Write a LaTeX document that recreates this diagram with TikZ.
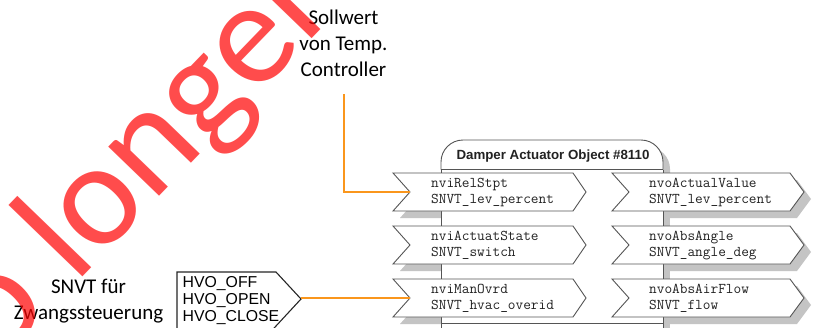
\documentclass[tikz,border=0pt]{standalone}
\usepackage{fontspec}
\newfontfamily\pcal{Carlito}
\newfontfamily\parial{Liberation Sans}
\definecolor{shadowgray}{HTML}{C4C4C4}
\definecolor{linegray}{HTML}{555555}
\definecolor{txtdark}{HTML}{222222}
\definecolor{wireorange}{HTML}{FA961C}
\tikzset{
  boxline/.style={draw=linegray, line width=0.9pt},
  shadowfill/.style={fill=shadowgray},
  portfill/.style={fill=white, draw=linegray, line width=0.9pt, line join=miter},
  porttext/.style={anchor=base west, inner sep=0pt, text=txtdark, font=\ttfamily\fontsize{14.9}{16}\selectfont},
  calibri/.style={inner sep=0pt, align=center, font=\pcal\fontsize{21}{26}\selectfont},
  wire/.style={draw=wireorange, line width=2pt},
  hvoline/.style={draw=black!85, line width=1.1pt, line join=miter},
}
\newcommand\lportpath[1]{(393,#1) -- (573,#1) -- (586,{#1+19}) -- (573,{#1+38}) -- (393,{#1+38}) -- (410,{#1+19}) -- cycle}
\newcommand\rportpath[1]{(612,#1) -- (790,#1) -- (804,{#1+19}) -- (790,{#1+38}) -- (612,{#1+38}) -- (629,{#1+19}) -- cycle}
\begin{document}
\begin{tikzpicture}[x=1pt,y=-1pt]
\useasboundingbox (0,0) rectangle (817,327);
\clip (0,0) rectangle (817,327);
\fill[white] (0,0) rectangle (817,327);
% shadows
\begin{scope}[shift={(7,7)}]
  \fill[shadowgray, rounded corners=22] (441,169.5) -- (441,140) -- (663,140) -- (663,169.5);
  \fill[shadowgray] (441,169) rectangle (663,345);
  \foreach \t in {173,226,279} {
    \fill[shadowgray] \lportpath{\t};
    \fill[shadowgray] \rportpath{\t};
  }
\end{scope}
% title box and body
\filldraw[boxline, fill=white, rounded corners=22] (441,169.5) -- (441,140) -- (663,140) -- (663,169.5);
\fill[white] (441,169.5) rectangle (663,345);
\draw[boxline] (441,169.5) -- (441,345);
\draw[boxline] (663,169.5) -- (663,345);
\draw[boxline] (441,169.5) -- (663,169.5);
\draw[boxline] (441,323) -- (663,323);
\node[inner sep=0pt, anchor=base, text=txtdark, font=\parial\bfseries\fontsize{13.3}{15}\selectfont] (title) at (553,159.5) {Damper Actuator Object \#8110};
% ports
\foreach \t in {173,226,279} {
  \draw[portfill] \lportpath{\t};
  \draw[portfill] \rportpath{\t};
}
\coordinate (n1) at (410,192);
\coordinate (n3) at (410,298);
\node[porttext] (l1a) at (431,187.5) {nviRelStpt};
\node[porttext] (l1b) at (431,203.5) {SNVT\_lev\_percent};
\node[porttext] (l2a) at (431,240.5) {nviActuatState};
\node[porttext] (l2b) at (431,256.5) {SNVT\_switch};
\node[porttext] (l3a) at (431,293.5) {nviManOvrd};
\node[porttext] (l3b) at (431,309.5) {SNVT\_hvac\_overid};
\node[porttext] (r1a) at (649,187.5) {nvoActualValue};
\node[porttext] (r1b) at (649,203.5) {SNVT\_lev\_percent};
\node[porttext] (r2a) at (649,240.5) {nvoAbsAngle};
\node[porttext] (r2b) at (649,256.5) {SNVT\_angle\_deg};
\node[porttext] (r3a) at (649,293.5) {nvoAbsAirFlow};
\node[porttext] (r3b) at (649,309.5) {SNVT\_flow};
% HVO box
\draw[hvoline, fill=white] (177,330) -- (177,272) -- (276,272) -- (301,299) -- (272.3,330);
\coordinate (hvotip) at (301,298);
\node[inner sep=0pt, anchor=north west, align=left, text=black, font=\parial\fontsize{15.8}{16.7}\selectfont] (hvo) at (182.5,276.5) {HVO\_OFF\\HVO\_OPEN\\HVO\_CLOSE};
% labels
\node[calibri, anchor=north] (soll) at (343.5,10) {Sollwert\\von Temp.\\Controller};
\coordinate (sollend) at (343.5,94);
\node[calibri, anchor=north] (snvt) at (88.5,279) {SNVT für\\Zwangssteuerung};
% wires
\draw[wire] (sollend) |- (n1);
\draw[wire] (hvotip) -- (n3);
% watermark
\node[rotate=46, anchor=base west, inner sep=0pt, text=red, text opacity=0.7, font=\pcal\fontsize{148}{148}\selectfont] (wm) at (-56.3,420.6) {no longer};
\end{tikzpicture}
\end{document}
